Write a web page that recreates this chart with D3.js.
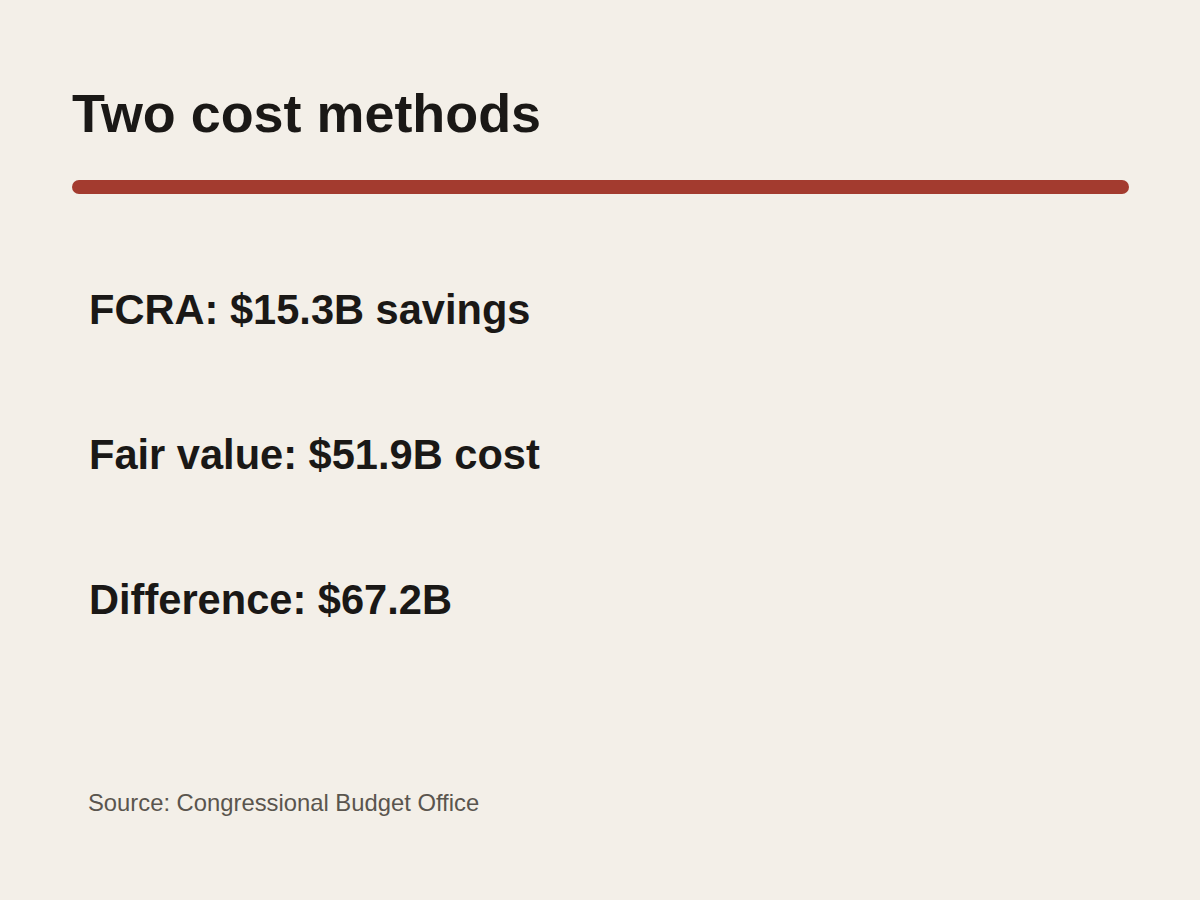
<!DOCTYPE html>
<html>
<head>
<meta charset="utf-8">
<script src="https://cdn.jsdelivr.net/npm/d3@7"></script>
<style>
  html, body { margin: 0; padding: 0; background: #f3efe8; }
  svg { display: block; }
</style>
</head>
<body>
<svg id="chart" width="1200" height="900"></svg>
<script>
const title = "Two cost methods";
const labels = ["FCRA", "Fair value", "Difference"];
const values = [15.3, 51.9, 67.2];
const suffixes = ["savings", "cost", ""];
const source = "Source: Congressional Budget Office";

const W = 1200, H = 900;
const svg = d3.select("#chart");
const font = "'Liberation Sans', Arial, Helvetica, sans-serif";

svg.append("rect").attr("width", W).attr("height", H).attr("fill", "#f3efe8");

svg.append("text")
  .attr("x", 72).attr("y", 132)
  .attr("font-family", font).attr("font-weight", "bold")
  .attr("font-size", 53.9).attr("fill", "#1a1816")
  .text(title);

svg.append("line")
  .attr("x1", 79).attr("x2", 1122)
  .attr("y1", 187).attr("y2", 187)
  .attr("stroke", "#a33b2f").attr("stroke-width", 14)
  .attr("stroke-linecap", "round");

const y = d3.scalePoint().domain(labels).range([324, 614]);
const fmt = d3.format(".1f");

svg.selectAll("text.row")
  .data(labels)
  .join("text")
  .attr("class", "row")
  .attr("x", 89)
  .attr("y", d => y(d))
  .attr("font-family", font).attr("font-weight", "bold")
  .attr("font-size", 41.6).attr("fill", "#1a1816")
  .text((d, i) => `${d}: $${fmt(values[i])}B${suffixes[i] ? " " + suffixes[i] : ""}`);

svg.append("text")
  .attr("x", 88).attr("y", 811)
  .attr("font-family", font)
  .attr("font-size", 23.8).attr("fill", "#5a554e")
  .text(source);
</script>
</body>
</html>
